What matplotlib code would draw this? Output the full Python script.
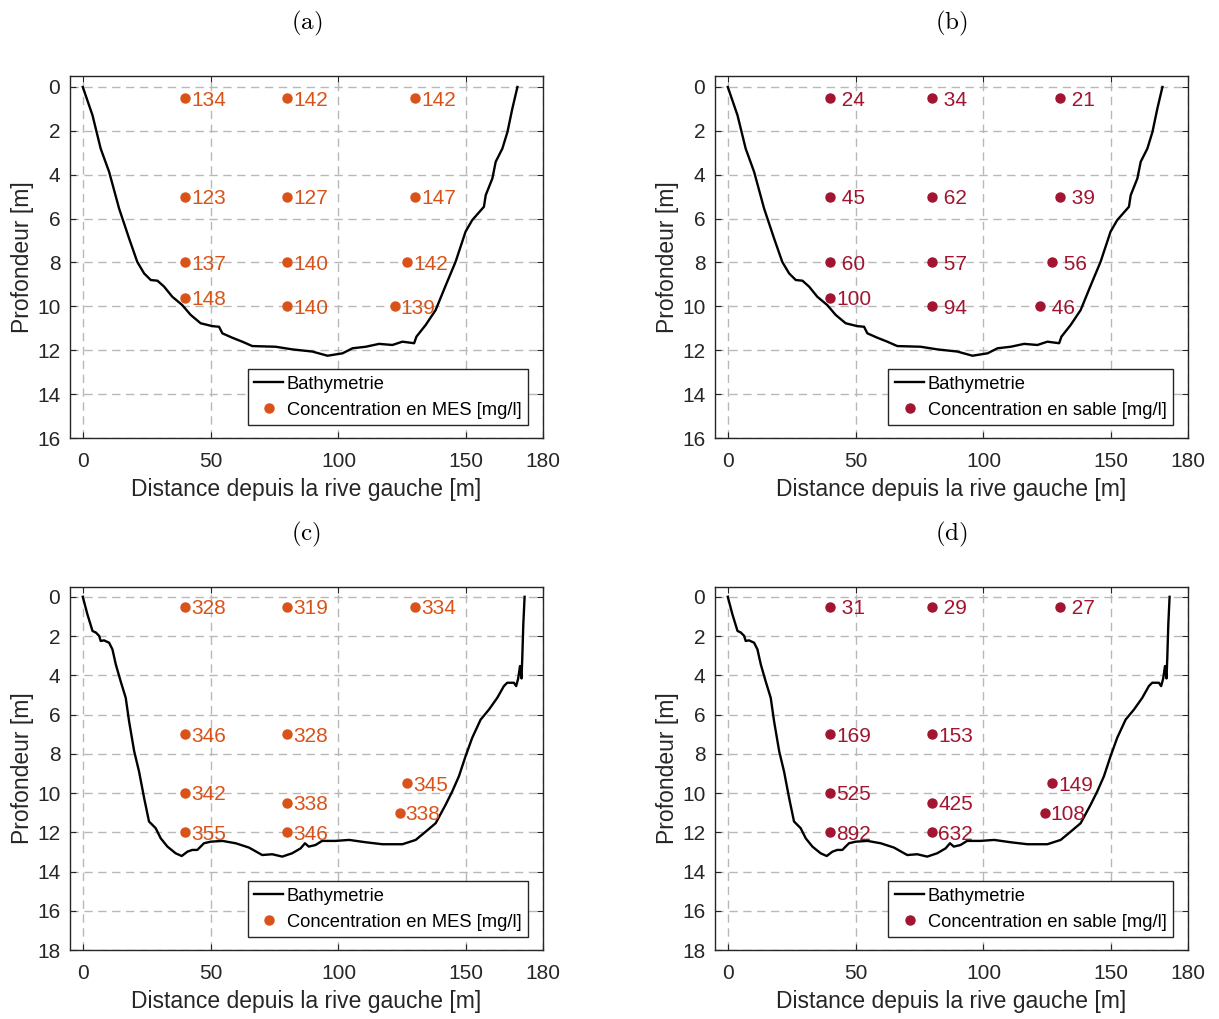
import matplotlib
matplotlib.use("Agg")
from matplotlib import pyplot as plt

# bathymetrie, campagne 1 (panneaux a et b)
bathy1_x = [0, 3.8, 7.0, 10.3, 14.2, 18.1, 21.3, 24.0, 26.6, 29.2, 31.8, 35.0, 38.9, 42.2,
            46.1, 50.6, 53.3, 54.6, 58.5, 62.4, 66.3, 75.4, 81.9, 89.8, 95.7, 101.6,
            105.5, 110.7, 115.9, 121.1, 125.0, 129.6, 130.5, 134.1, 138.0, 142.0, 145.8,
            149.7, 152.3, 156.9, 157.6, 158.9, 160.2, 161.5, 164.1, 166.1, 168.0, 170.0]
bathy1_y = [0, 1.29, 2.81, 3.87, 5.54, 6.9, 7.97, 8.5, 8.8, 8.83, 9.1, 9.56, 9.94, 10.39,
            10.77, 10.9, 10.93, 11.23, 11.43, 11.61, 11.81, 11.84, 11.96, 12.06, 12.25,
            12.14, 11.91, 11.84, 11.71, 11.76, 11.61, 11.68, 11.38, 10.85, 10.17, 9.03,
            7.97, 6.6, 6.07, 5.46, 4.93, 4.55, 4.17, 3.41, 2.81, 2.05, 0.99, 0]

# bathymetrie, campagne 2 (panneaux c et d)
bathy2_x = [0, 1.8, 3.8, 5.1, 6.4, 7.0, 8.3, 10.3, 11.6, 12.9, 14.8, 16.8, 18.1, 20.1, 22.0,
            24.0, 25.9, 28.5, 30.5, 33.1, 36.3, 38.7, 40.9, 42.8, 44.8, 47.4, 50.0, 54.6,
            59.8, 65.0, 70.2, 74.1, 78.0, 81.9, 85.2, 86.9, 88.4, 91.0, 93.6, 98.8, 104.2,
            110.7, 117.2, 125.0, 130.2, 134.1, 138.0, 141.9, 144.5, 147.1, 149.7, 152.3,
            155.6, 158.9, 162.1, 164.7, 166.0, 168.6, 169.5, 170.3, 171.0, 171.6, 171.9,
            172.3, 172.8]
bathy2_y = [0, 0.89, 1.74, 1.82, 1.99, 2.25, 2.22, 2.34, 2.68, 3.44, 4.3, 5.15, 6.34, 7.87,
            8.9, 10.26, 11.45, 11.79, 12.31, 12.73, 13.07, 13.21, 12.99, 12.9, 12.9, 12.56,
            12.48, 12.44, 12.56, 12.78, 13.16, 13.12, 13.24, 13.07, 12.82, 12.56, 12.73,
            12.65, 12.44, 12.44, 12.39, 12.51, 12.61, 12.61, 12.39, 11.97, 11.54, 10.6,
            9.92, 9.15, 8.13, 7.19, 6.26, 5.74, 5.15, 4.55, 4.38, 4.38, 4.55, 4.16, 3.53,
            4.16, 3.1, 1.4, 0]

# points de mesure
pts1_x = [40, 80, 130, 40, 80, 130, 40, 80, 127, 40, 80, 122]
pts1_y = [0.5, 0.5, 0.5, 5, 5, 5, 8, 8, 8, 9.6, 10, 10]
mes1 = [134, 142, 142, 123, 127, 147, 137, 140, 142, 148, 140, 139]
sable1 = [24, 34, 21, 45, 62, 39, 60, 57, 56, 100, 94, 46]

pts2_x = [40, 80, 130, 40, 80, 40, 80, 127, 40, 80, 124]
pts2_y = [0.5, 0.5, 0.5, 7, 7, 10, 10.5, 9.5, 12, 12, 11]
mes2 = [328, 319, 334, 346, 328, 342, 338, 345, 355, 346, 338]
sable2 = [31, 29, 27, 169, 153, 525, 425, 149, 892, 632, 108]

orange = "#D95319"
rouge = "#A2142F"
gris = "#262626"

plt.rcParams["font.family"] = ["Liberation Sans", "DejaVu Sans"]
plt.rcParams["mathtext.fontset"] = "cm"
fig = plt.figure(figsize=(12.19, 10.19), dpi=100)

W, H = 1219, 1019
panels = [
    ("a", 70, 76, 438, bathy1_x, bathy1_y, pts1_x, pts1_y, mes1, orange,
     "Concentration en MES [mg/l]", 16),
    ("b", 715, 76, 438, bathy1_x, bathy1_y, pts1_x, pts1_y, sable1, rouge,
     "Concentration en sable [mg/l]", 16),
    ("c", 70, 587, 950, bathy2_x, bathy2_y, pts2_x, pts2_y, mes2, orange,
     "Concentration en MES [mg/l]", 18),
    ("d", 715, 587, 950, bathy2_x, bathy2_y, pts2_x, pts2_y, sable2, rouge,
     "Concentration en sable [mg/l]", 18),
]

for tag, left, top, bottom, bx, by, px, py, vals, col, lab, ymax in panels:
    ax = fig.add_axes([left / W, 1 - bottom / H, 473 / W, (bottom - top) / H])
    ax.plot(bx, by, color="black", lw=1.7, label="Bathymetrie")
    ax.plot(px, py, "o", color=col, ms=6.5, ls="none", label=lab)
    for x, y, v in zip(px, py, vals):
        ax.text(x + 2.3, y + 0.1, f"{v:3d}", color=col, fontsize=15,
                va="center", ha="left")
    ax.set_xlim(-5, 180)
    ax.set_ylim(ymax, -0.5)
    ax.set_xticks([0, 50, 100, 150, 180])
    ax.set_yticks(range(0, ymax + 1, 2))
    ax.grid(True, ls=(0, (6, 4)), color="#b8b8b8", lw=1)
    ax.tick_params(direction="in", top=True, right=True, labelsize=15,
                   colors=gris, length=4)
    ax.tick_params(axis="x", pad=10)
    ax.tick_params(axis="y", pad=7)
    for s in ax.spines.values():
        s.set_color(gris)
        s.set_linewidth(1)
    ax.set_xlabel("Distance depuis la rive gauche [m]", fontsize=16.5, color=gris,
                  labelpad=5)
    ax.set_ylabel("Profondeur [m]", fontsize=16.5, color=gris, labelpad=2)
    leg = ax.legend(loc="lower right", bbox_to_anchor=(1 - 15 / 473, 13 / (bottom - top)),
                    borderaxespad=0, fancybox=False, fontsize=13.2, handlelength=1.6,
                    handletextpad=0.2, borderpad=0.35, labelspacing=0.48, framealpha=1)
    leg.get_frame().set_edgecolor(gris)
    leg.get_frame().set_linewidth(1)
    fig.text((left + 473 / 2) / W, 1 - (top - 53) / H, r"$\mathrm{(" + tag + r")}$",
             fontsize=18, ha="center", va="center")

fig.savefig("out.png", dpi=100)
